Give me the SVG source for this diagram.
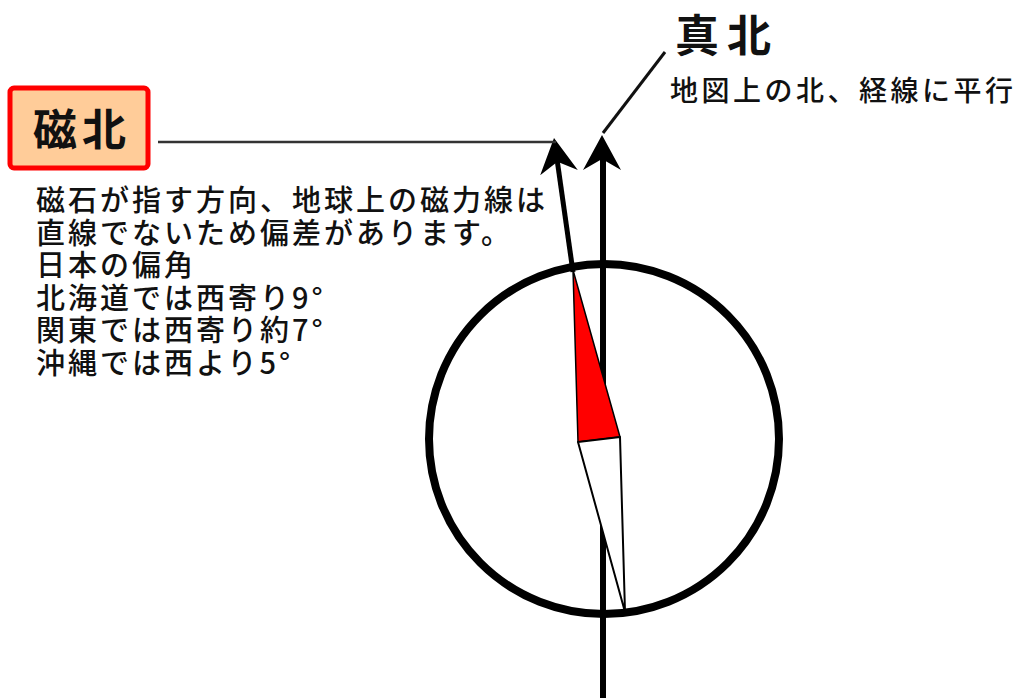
<svg xmlns="http://www.w3.org/2000/svg" width="1024" height="698" viewBox="0 0 1024 698">
<style>
  text { font-family: "Noto Sans CJK JP", "Noto Sans", sans-serif; fill: #111; }
  .big { font-size: 44px; font-weight: 700; }
  .note { font-size: 29px; letter-spacing: 3px; font-weight: 500; }
  .sub { font-size: 28px; letter-spacing: 3.5px; font-weight: 500; }
  .head { fill: #000; }
</style>
<defs>
  <path id="ah" d="M0,0 L19,35 L0,24 L-19,35 Z"/>
</defs>
<rect width="1024" height="698" fill="#fff"/>

<g id="compass">
  <circle cx="604" cy="439" r="175" fill="none" stroke="#000" stroke-width="8"/>
</g>

<g id="connectors">
  <line x1="603" y1="150" x2="603" y2="698" stroke="#000" stroke-width="6"/>
  <use href="#ah" class="head" transform="translate(602,135)"/>
  <line x1="573" y1="272" x2="556" y2="152" stroke="#000" stroke-width="5"/>
  <use href="#ah" class="head" transform="translate(554,138) rotate(-8.2)"/>
  <line x1="158" y1="142" x2="556" y2="142" stroke="#333" stroke-width="2.5"/>
  <line x1="665" y1="52" x2="603" y2="133" stroke="#111" stroke-width="3"/>
</g>

<g id="needle">
  <polygon points="573,270 578,442 620,437" fill="#f00" stroke="#000" stroke-width="1.5" stroke-linejoin="round"/>
  <polygon points="578,442 620,437 625,612" fill="#fff" stroke="#000" stroke-width="2" stroke-linejoin="round"/>
</g>

<g id="magnetic-north">
  <rect x="10" y="88" width="138" height="80" rx="4" fill="#FFCC99" stroke="#f00" stroke-width="5"/>
  <text class="big" x="33" y="146" letter-spacing="5">磁北</text>
</g>

<g id="true-north">
  <text class="big" x="675" y="52" font-size="49" letter-spacing="8">真北</text>
  <text class="sub" x="670" y="101">地図上の北、経線に平行</text>
</g>

<g id="note">
  <text class="note" x="36" y="211">磁石が指す方向、地球上の磁力線は<tspan x="36" dy="32.5">直線でないため偏差があります。</tspan><tspan x="36" dy="32.5">日本の偏角</tspan><tspan x="36" dy="32.5">北海道では西寄り9°</tspan><tspan x="36" dy="32.5">関東では西寄り約7°</tspan><tspan x="36" dy="32.5">沖縄では西より5°</tspan></text>
</g>
</svg>
